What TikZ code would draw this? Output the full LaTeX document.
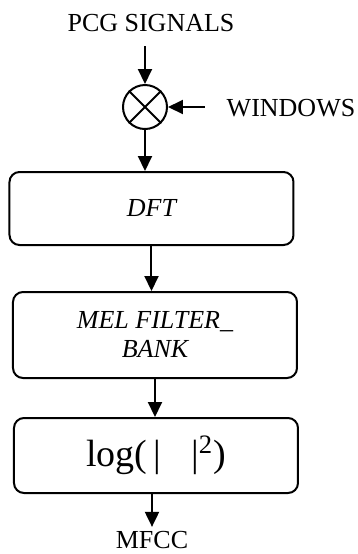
\documentclass[tikz,border=0pt]{standalone}
\usepackage{fontspec}
\setmainfont{Liberation Serif}
\usetikzlibrary{arrows.meta}
\begin{document}
\begin{tikzpicture}[x=0.5pt,y=-0.5pt,
  bloque/.style={draw, line width=1pt, rounded corners=5pt, minimum width=142pt,
    align=center, font=\itshape\fontsize{13}{14.5}\selectfont},
  flecha/.style={line width=1pt, -{Triangle[length=7.5pt,width=7pt]}},
  texto/.style={font=\fontsize{13}{15}\selectfont, inner sep=2pt}]
\useasboundingbox (0,0) rectangle (358,554);
% Entrada
\node[texto] (pcg) at (151,23) {PCG SIGNALS};
\node[draw, circle, line width=1pt, minimum size=22pt, inner sep=0pt] (mix) at (145,107) {};
\draw[line width=1pt] (mix.45) -- (mix.225) (mix.135) -- (mix.-45);
\node[texto] (win) at (291,108) {WINDOWS};
\coordinate (wstart) at (205,107);
% Bloques
\node[bloque, minimum height=36.5pt] (dft) at (151.5,208.5) {DFT};
\node[bloque, minimum height=43pt] (mel) at (155,335) {MEL FILTER\_\\BANK};
\node[bloque, minimum height=37.5pt, font=\fontsize{19}{21}\selectfont] (log) at (156,455.5)
  {log(\hspace{0.15em}|\hspace{0.8em}|\textsuperscript{2})};
\node[texto] (mfcc) at (152,540) {MFCC};
% Flechas
\draw[flecha] ([yshift=-5pt]pcg.south -| mix.north) -- (mix.north);
\draw[flecha] (wstart) -- (mix.east);
\draw[flecha] (mix.south) -- (mix.south |- dft.north);
\draw[flecha] (dft.south) -- (dft.south |- mel.north);
\draw[flecha] (mel.south) -- (mel.south |- log.north);
\draw[flecha] (log.south -| mfcc.north) -- (mfcc.north);
\end{tikzpicture}
\end{document}
